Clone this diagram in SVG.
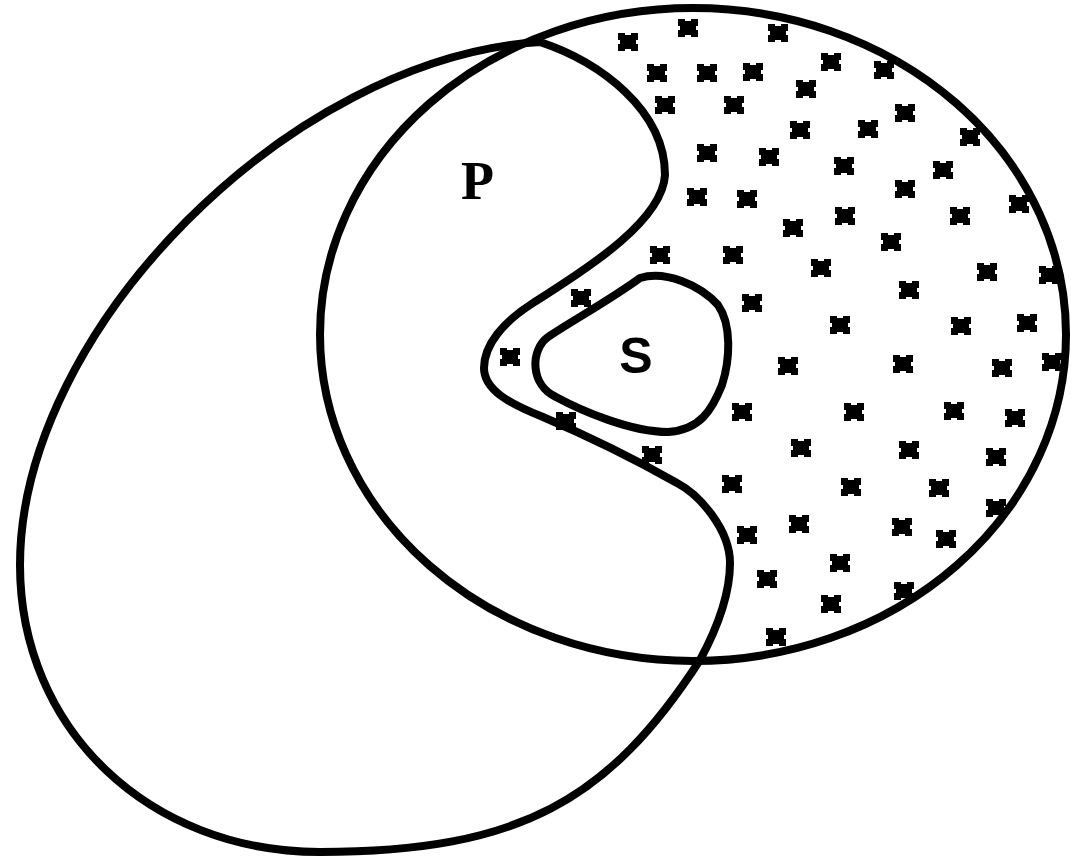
<svg xmlns="http://www.w3.org/2000/svg" xmlns:xlink="http://www.w3.org/1999/xlink" width="1071" height="858" viewBox="0 0 1071 858">
<style>
.ln{fill:none;stroke:#000;stroke-width:8;stroke-linejoin:round;stroke-linecap:round}
.mk{fill:#000}
.lblP{font-family:"Liberation Serif",serif;font-weight:bold;font-size:54px;fill:#000}
.lblS{font-family:"Liberation Sans",sans-serif;font-weight:bold;font-size:50px;fill:#000}
</style>
<defs>
<path id="m" class="mk" d="M-10,-9 h7 v2 h6 v-2 h7 v7 h-2 v4 h2 v7 h-7 v-2 h-6 v2 h-7 v-7 h2 v-4 h-2 z"/>
</defs>
<rect width="1071" height="858" fill="#fff"/>
<g id="set-M">
<ellipse class="ln" cx="693" cy="334.5" rx="373" ry="326.5"/>
</g>
<g id="shading">
<use href="#m" x="628" y="42"/><use href="#m" x="688" y="28"/><use href="#m" x="778" y="33"/>
<use href="#m" x="657" y="73"/><use href="#m" x="707" y="73"/><use href="#m" x="753" y="72"/><use href="#m" x="831" y="62"/><use href="#m" x="884" y="70"/>
<use href="#m" x="806" y="89"/>
<use href="#m" x="665" y="105"/><use href="#m" x="734" y="105"/><use href="#m" x="800" y="130"/><use href="#m" x="868" y="129"/><use href="#m" x="905" y="113"/><use href="#m" x="970" y="137"/>
<use href="#m" x="707" y="153"/><use href="#m" x="769" y="157"/><use href="#m" x="844" y="166"/><use href="#m" x="943" y="170"/>
<use href="#m" x="697" y="197"/><use href="#m" x="747" y="199"/><use href="#m" x="905" y="189"/><use href="#m" x="1019" y="204"/>
<use href="#m" x="793" y="228"/><use href="#m" x="845" y="216"/><use href="#m" x="960" y="216"/>
<use href="#m" x="891" y="242"/>
<use href="#m" x="660" y="255"/><use href="#m" x="733" y="255"/><use href="#m" x="821" y="268"/><use href="#m" x="987" y="272"/><use href="#m" x="1049" y="275"/>
<use href="#m" x="909" y="290"/>
<use href="#m" x="752" y="303"/><use href="#m" x="581" y="298"/>
<use href="#m" x="840" y="325"/><use href="#m" x="961" y="326"/><use href="#m" x="1027" y="323"/>
<use href="#m" x="510" y="357"/>
<use href="#m" x="788" y="366"/><use href="#m" x="903" y="364"/><use href="#m" x="1002" y="368"/><use href="#m" x="1052" y="362"/>
<use href="#m" x="742" y="412"/><use href="#m" x="854" y="412"/><use href="#m" x="954" y="411"/><use href="#m" x="1015" y="418"/>
<use href="#m" x="566" y="421"/>
<use href="#m" x="801" y="448"/><use href="#m" x="909" y="450"/><use href="#m" x="996" y="457"/>
<use href="#m" x="652" y="455"/>
<use href="#m" x="732" y="484"/><use href="#m" x="851" y="487"/><use href="#m" x="939" y="488"/>
<use href="#m" x="996" y="508"/>
<use href="#m" x="799" y="524"/><use href="#m" x="902" y="527"/><use href="#m" x="946" y="539"/><use href="#m" x="747" y="535"/>
<use href="#m" x="840" y="563"/>
<use href="#m" x="767" y="579"/><use href="#m" x="904" y="591"/><use href="#m" x="831" y="604"/>
<use href="#m" x="776" y="637"/>
</g>
<g id="set-P">
<path class="ln" d="M700,660 C609,800 520,852 320,852 C150,852 20,730 20,565 C20,330 290,58 540,42 C600,62 665,110 665,175 C662,225 573,277 533,303 C503,322 484,345 484,368 C484,390 510,404 543,417 C590,437 640,462 677,483 C700,495 730,530 730,563 C730,600 713,636 700,660 Z"/>
<text class="lblP" x="461" y="199">P</text>
</g>
<g id="set-S">
<path class="ln" d="M640,278 C665,270 700,285 718,305 C732,325 730,360 722,385 C712,410 700,430 668,432 C630,432 580,410 556,397 C530,385 530,350 548,337 C570,322 610,300 640,278 Z"/>
<text class="lblS" x="636" y="373" text-anchor="middle">S</text>
</g>
<g id="connectors"></g>
</svg>
